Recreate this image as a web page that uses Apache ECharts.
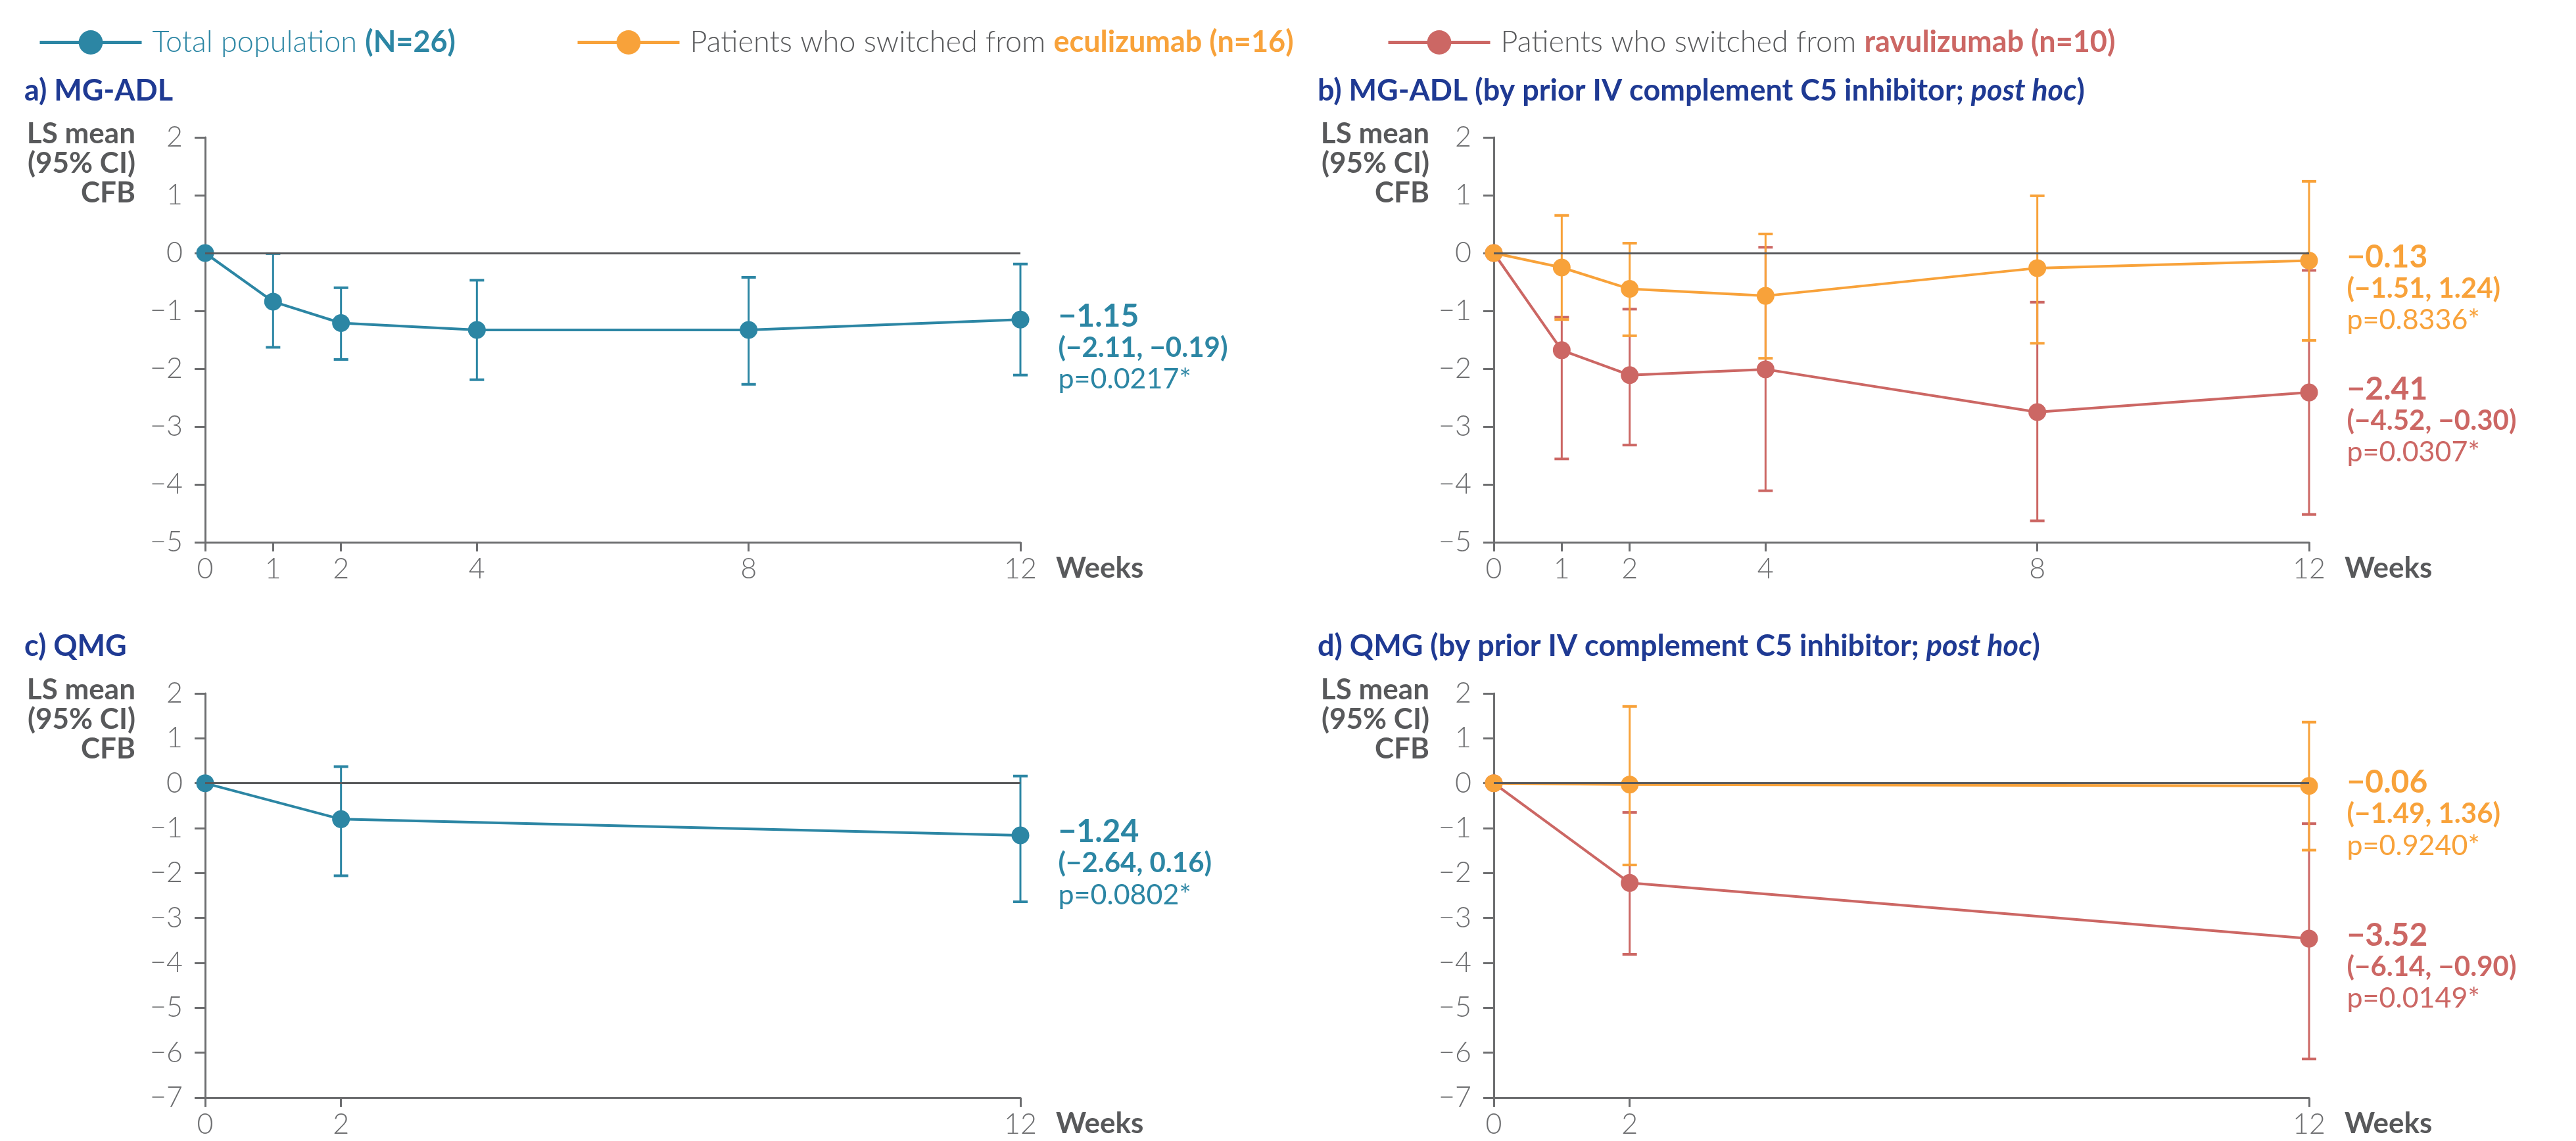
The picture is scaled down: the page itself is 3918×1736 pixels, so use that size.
<!DOCTYPE html>
<html>
<head>
<meta charset="utf-8">
<script src="https://cdn.jsdelivr.net/npm/echarts@6/dist/echarts.min.js"></script>
<style>
  html, body { margin: 0; padding: 0; background: #fff; }
  #chart { width: 3918px; height: 1736px; }
</style>
</head>
<body>
<div id="chart"></div>
<script>
// x categories (weeks)
const weeksAdl = [0, 1, 2, 4, 8, 12];
const weeksQmg = [0, 2, 12];
const ticksAdlY = [-5, 2];
const ticksQmgY = [-7, 2];

// a) MG-ADL, total population
const adlTotalMean = [0, -0.84, -1.21, -1.33, -1.33, -1.15];
const adlTotalLower = [null, -1.63, -1.84, -2.19, -2.27, -2.11];
const adlTotalUpper = [null, -0.01, -0.60, -0.47, -0.42, -0.19];
const adlTotalNote = ['\u22121.15', '(\u22122.11, \u22120.19)', 'p=0.0217*'];

// b) MG-ADL, switched from eculizumab / ravulizumab
const adlEcuMean = [0, -0.25, -0.62, -0.74, -0.26, -0.13];
const adlEcuLower = [null, -1.15, -1.43, -1.82, -1.56, -1.51];
const adlEcuUpper = [null, 0.65, 0.17, 0.33, 0.99, 1.24];
const adlEcuNote = ['\u22120.13', '(\u22121.51, 1.24)', 'p=0.8336*'];
const adlRavMean = [0, -1.68, -2.11, -2.01, -2.75, -2.41];
const adlRavLower = [null, -3.56, -3.32, -4.11, -4.63, -4.52];
const adlRavUpper = [null, -1.11, -0.97, 0.10, -0.85, -0.30];
const adlRavNote = ['\u22122.41', '(\u22124.52, \u22120.30)', 'p=0.0307*'];

// c) QMG, total population
const qmgTotalMean = [0, -0.80, -1.16];
const qmgTotalLower = [null, -2.06, -2.64];
const qmgTotalUpper = [null, 0.37, 0.16];
const qmgTotalNote = ['\u22121.24', '(\u22122.64, 0.16)', 'p=0.0802*'];

// d) QMG, by prior C5 inhibitor
const qmgEcuMean = [0, -0.03, -0.06];
const qmgEcuLower = [null, -1.82, -1.49];
const qmgEcuUpper = [null, 1.71, 1.36];
const qmgEcuNote = ['\u22120.06', '(\u22121.49, 1.36)', 'p=0.9240*'];
const qmgRavMean = [0, -2.22, -3.46];
const qmgRavLower = [null, -3.81, -6.14];
const qmgRavUpper = [null, -0.65, -0.90];
const qmgRavNote = ['\u22123.52', '(\u22126.14, \u22120.90)', 'p=0.0149*'];

const TEAL = '#2c86a4';
const ORANGE = '#f8a23a';
const RED = '#cc6764';
const NAVY = '#1f3a93';
const GREY = '#58595b';
const AXIS = '#6d6e70';
const FONT = 'Lato, "Open Sans", sans-serif';

const NAME_TOTAL = 'Total population';
const NAME_ECU = 'eculizumab';
const NAME_RAV = 'ravulizumab';

const chart = echarts.init(document.getElementById('chart'));

function errorBar(params, api) {
  const x = api.value(0);
  const hi = api.coord([x, api.value(2)]);
  const lo = api.coord([x, api.value(1)]);
  const half = 11;
  const color = api.visual('color');
  const bar = { stroke: color, lineWidth: 3 };
  const cap = { stroke: color, lineWidth: 4 };
  return {
    type: 'group',
    children: [
      { type: 'line', shape: { x1: hi[0], y1: hi[1], x2: lo[0], y2: lo[1] }, style: bar },
      { type: 'line', shape: { x1: hi[0] - half, y1: hi[1], x2: hi[0] + half, y2: hi[1] }, style: cap },
      { type: 'line', shape: { x1: lo[0] - half, y1: lo[1], x2: lo[0] + half, y2: lo[1] }, style: cap }
    ]
  };
}

function noteRich(color) {
  return {
    m: { fontFamily: FONT, fontSize: 48, fontWeight: 'bold', color: color, lineHeight: 48 },
    c: { fontFamily: FONT, fontSize: 42, fontWeight: 'bold', color: color, lineHeight: 48 },
    p: { fontFamily: FONT, fontSize: 43, fontWeight: 'normal', color: color, lineHeight: 48 }
  };
}

function meanSeries(name, idx, weeks, mean, color, note) {
  const last = weeks.length - 1;
  return {
    name: name,
    type: 'line',
    xAxisIndex: idx,
    yAxisIndex: idx,
    data: weeks.map((w, i) => [w, mean[i]]),
    symbol: 'circle',
    symbolSize: 27,
    z: 4,
    itemStyle: { color: color },
    lineStyle: { color: color, width: 4 },
    emphasis: { disabled: true },
    label: {
      show: true,
      position: 'right',
      distance: 44,
      offset: [0, 43],
      align: 'left',
      formatter: p => p.dataIndex === last
        ? '{m|' + note[0] + '}\n{c|' + note[1] + '}\n{p|' + note[2] + '}'
        : '',
      rich: noteRich(color)
    }
  };
}

function ciSeries(name, idx, weeks, lower, upper, color) {
  return {
    name: name,
    type: 'custom',
    xAxisIndex: idx,
    yAxisIndex: idx,
    renderItem: errorBar,
    itemStyle: { color: color },
    encode: { x: 0, y: [1, 2] },
    z: 3,
    data: weeks.map((w, i) => [w, lower[i], upper[i]]).filter(d => d[1] != null)
  };
}

function zeroLine(idx) {
  return {
    type: 'line',
    xAxisIndex: idx,
    yAxisIndex: idx,
    data: [],
    z: 1,
    silent: true,
    markLine: {
      symbol: 'none',
      silent: true,
      label: { show: false },
      lineStyle: { color: GREY, width: 3, type: 'solid' },
      data: [{ yAxis: 0 }]
    }
  };
}

function xAxisFor(idx, weeks) {
  return {
    type: 'value',
    gridIndex: idx,
    min: 0,
    max: 12,
    axisLine: { onZero: false, lineStyle: { color: AXIS, width: 3 } },
    axisTick: { customValues: weeks, length: 14, lineStyle: { color: AXIS, width: 3 } },
    axisLabel: { customValues: weeks, margin: 20, fontSize: 43, fontWeight: 300, color: AXIS, fontFamily: FONT },
    splitLine: { show: false },
    name: 'Weeks',
    nameLocation: 'end',
    nameGap: 54,
    nameTextStyle: {
      fontFamily: FONT, fontSize: 44, fontWeight: 'bold', color: GREY,
      align: 'left', verticalAlign: 'top', padding: [18, 0, 0, 0]
    }
  };
}

function yAxisFor(idx, range) {
  return {
    type: 'value',
    gridIndex: idx,
    min: range[0],
    max: range[1],
    interval: 1,
    axisLine: { show: true, onZero: false, lineStyle: { color: AXIS, width: 3 } },
    axisTick: { show: true, length: 16, lineStyle: { color: AXIS, width: 3 } },
    axisLabel: {
      margin: 34, fontSize: 43, fontWeight: 300, color: AXIS, fontFamily: FONT,
      formatter: v => String(v).replace('-', '\u2212')
    },
    splitLine: { show: false }
  };
}

const titleStyle = { fontFamily: FONT, fontSize: 45, fontWeight: 'bold', color: NAVY };
const titleRich = {
  n: titleStyle,
  i: Object.assign({}, titleStyle, { fontStyle: 'italic' })
};

function panelTitle(text, left, top) {
  return { text: text, left: left, top: top, padding: 0, textStyle: Object.assign({ rich: titleRich }, titleStyle) };
}

function yName(x, y) {
  return {
    type: 'text',
    x: x,
    y: y,
    style: {
      text: 'LS mean\n(95% CI)\nCFB',
      align: 'right',
      verticalAlign: 'top',
      lineHeight: 45,
      font: 'bold 44px ' + FONT,
      fill: GREY
    }
  };
}

const legendText = {
  fontFamily: FONT, fontSize: 45, padding: [0, 0, 0, 11],
  rich: {
    t: { fontFamily: FONT, fontSize: 45, fontWeight: 300, color: TEAL },
    tb: { fontFamily: FONT, fontSize: 45, fontWeight: 'bold', color: TEAL },
    g: { fontFamily: FONT, fontSize: 45, fontWeight: 300, color: GREY },
    o: { fontFamily: FONT, fontSize: 45, fontWeight: 'bold', color: ORANGE },
    r: { fontFamily: FONT, fontSize: 45, fontWeight: 'bold', color: RED }
  }
};

function legendAt(name, left, formatter) {
  return {
    data: [name], left: left, top: 37, itemWidth: 155, itemHeight: 46,
    selectedMode: false, formatter: formatter, textStyle: legendText,
    lineStyle: { width: 5 }
  };
}

const option = {
  backgroundColor: '#fff',
  animation: false,
  legend: [
    legendAt(NAME_TOTAL, 53, () => '{t|Total population }{tb|(N=26)}'),
    legendAt(NAME_ECU, 871, () => '{g|Patients who switched from }{o|eculizumab (n=16)}'),
    legendAt(NAME_RAV, 2104, () => '{g|Patients who switched from }{r|ravulizumab (n=10)}')
  ],
  title: [
    panelTitle('{n|a) MG-ADL}', 37, 116),
    panelTitle('{n|b) MG-ADL (by prior IV complement C5 inhibitor; }{i|post hoc}{n|)}', 2004, 116),
    panelTitle('{n|c) QMG}', 37, 961),
    panelTitle('{n|d) QMG (by prior IV complement C5 inhibitor; }{i|post hoc}{n|)}', 2004, 961)
  ],
  graphic: [yName(206, 181), yName(2174, 181), yName(206, 1027), yName(2174, 1027)],
  grid: [
    { left: 312, top: 209, width: 1240, height: 616 },
    { left: 2272, top: 209, width: 1240, height: 616 },
    { left: 312, top: 1055, width: 1240, height: 615 },
    { left: 2272, top: 1055, width: 1240, height: 615 }
  ],
  xAxis: [xAxisFor(0, weeksAdl), xAxisFor(1, weeksAdl), xAxisFor(2, weeksQmg), xAxisFor(3, weeksQmg)],
  yAxis: [yAxisFor(0, ticksAdlY), yAxisFor(1, ticksAdlY), yAxisFor(2, ticksQmgY), yAxisFor(3, ticksQmgY)],
  series: [
    // line series first so the legends take their line-and-dot icons
    meanSeries(NAME_TOTAL, 0, weeksAdl, adlTotalMean, TEAL, adlTotalNote),
    meanSeries(NAME_RAV, 1, weeksAdl, adlRavMean, RED, adlRavNote),
    meanSeries(NAME_ECU, 1, weeksAdl, adlEcuMean, ORANGE, adlEcuNote),
    meanSeries(NAME_TOTAL, 2, weeksQmg, qmgTotalMean, TEAL, qmgTotalNote),
    meanSeries(NAME_RAV, 3, weeksQmg, qmgRavMean, RED, qmgRavNote),
    meanSeries(NAME_ECU, 3, weeksQmg, qmgEcuMean, ORANGE, qmgEcuNote),
    zeroLine(0), zeroLine(1), zeroLine(2), zeroLine(3),
    ciSeries(NAME_TOTAL, 0, weeksAdl, adlTotalLower, adlTotalUpper, TEAL),
    ciSeries(NAME_RAV, 1, weeksAdl, adlRavLower, adlRavUpper, RED),
    ciSeries(NAME_ECU, 1, weeksAdl, adlEcuLower, adlEcuUpper, ORANGE),
    ciSeries(NAME_TOTAL, 2, weeksQmg, qmgTotalLower, qmgTotalUpper, TEAL),
    ciSeries(NAME_RAV, 3, weeksQmg, qmgRavLower, qmgRavUpper, RED),
    ciSeries(NAME_ECU, 3, weeksQmg, qmgEcuLower, qmgEcuUpper, ORANGE)
  ]
};

chart.setOption(option);
</script>
</body>
</html>
